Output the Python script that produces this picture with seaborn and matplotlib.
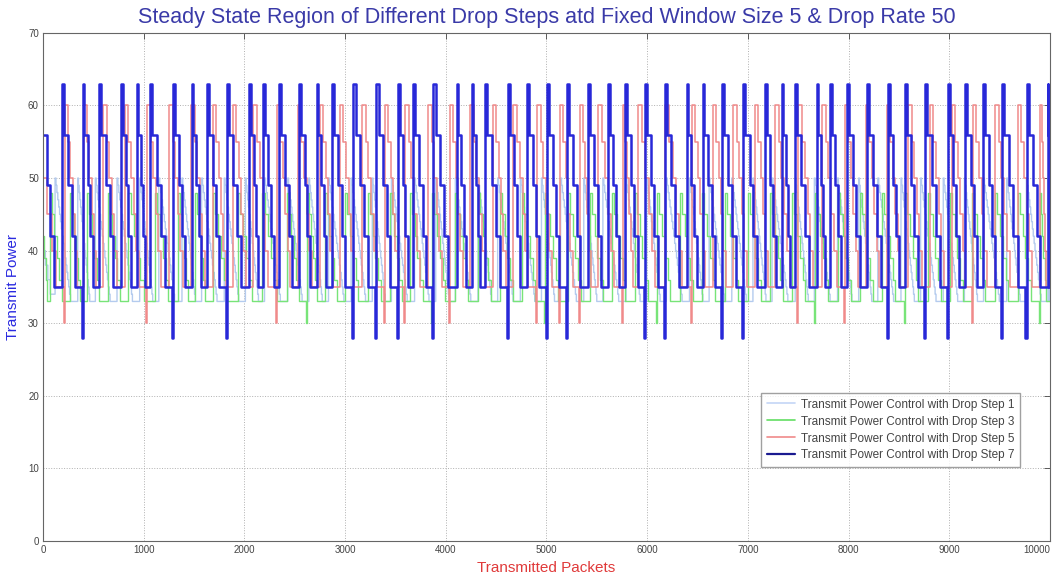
import matplotlib
matplotlib.use("Agg")
import matplotlib.pyplot as plt
import seaborn as sns
import pandas as pd
from matplotlib.lines import Line2D

# ---------------- data ----------------
x_max = 10000

# Drop step 7 (dark blue): cycle onsets (jump to 63) and cycles preceded by a dip to 28
blue_onsets = [186, 394, 559, 775, 930, 1063, 1294, 1477, 1626, 1824, 2049, 2188, 2346,
               2545, 2718, 2867, 3081, 3310, 3528, 3677, 3876, 4108, 4257, 4389, 4620,
               4803, 5001, 5200, 5415, 5614, 5779, 5978, 6176, 6392, 6550, 6740, 6954,
               7170, 7335, 7467, 7683, 7815, 7981, 8180, 8394, 8560, 8759, 8990, 9156,
               9338, 9520, 9768, 9982]
blue_dips = [394, 1294, 1824, 3081, 3310, 3528, 3876, 4620, 5001, 5200, 5978, 6176,
             6740, 6954, 8394, 8759, 8990, 9520, 9768]
blue_levels = [63, 56, 49, 42, 35]
blue_start = [56, 49, 42, 35]
blue_dip_level = 28

# Drop step 5 (red)
red_onsets = [218, 407, 596, 814, 1033, 1251, 1470, 1688, 1887, 2085, 2324, 2532, 2751,
              2949, 3168, 3396, 3595, 3823, 4042, 4240, 4469, 4667, 4905, 5134, 5332,
              5511, 5759, 5908, 6176, 6445, 6653, 6852, 7070, 7269, 7497, 7735, 7964,
              8172, 8381, 8590, 8808, 9026, 9235, 9453, 9682, 9900]
red_dips = [218, 1033, 2324, 3396, 3595, 4042, 4905, 5134, 5332, 5759, 6445, 7497,
            7964, 9235]
red_levels = [60, 55, 50, 45, 40, 35]
red_start = [50, 45, 40, 35]
red_dip_level = 30

# Drop step 3 (green)
green_onsets = [70, 268, 437, 645, 844, 1112, 1341, 1509, 1688, 1936, 2175, 2423, 2622,
                2800, 2999, 3227, 3446, 3644, 3863, 4091, 4320, 4538, 4756, 4985, 5213,
                5432, 5650, 5879, 6097, 6326, 6544, 6773, 7001, 7220, 7438, 7666, 7895,
                8113, 8332, 8560, 8788, 9007, 9225, 9453, 9682, 9900]
green_dips = [2622, 3863, 4985, 6097, 7666, 8560, 9900]
green_levels = [48, 45, 42, 39, 36, 33]
green_start = [42, 39, 36, 33]
green_dip_level = 30

# Drop step 1 (light blue)
lb_onsets = [120, 345, 520, 735, 960, 1150, 1380, 1575, 1800, 2010, 2200, 2430, 2640,
             2835, 3060, 3270, 3460, 3690, 3900, 4095, 4320, 4515, 4740, 4950, 5140,
             5370, 5560, 5790, 5995, 6190, 6420, 6615, 6840, 7050, 7240, 7470, 7660,
             7890, 8100, 8290, 8520, 8715, 8940, 9150, 9340, 9570, 9765, 9980]
lb_levels = [50, 49, 48, 47, 46, 45, 44, 43, 42, 41, 40, 39, 38, 37, 36, 35, 34, 33]
lb_start = [40, 38, 36, 34]

labels = ["Transmit Power Control with Drop Step 1",
          "Transmit Power Control with Drop Step 3",
          "Transmit Power Control with Drop Step 5",
          "Transmit Power Control with Drop Step 7"]
x_ticks = list(range(0, 10001, 1000))
y_ticks = list(range(0, 71, 10))


def build(onsets, levels, fracs, dips, dip_level, start_levels):
    xs, ys = [], []
    first = onsets[0]
    n = len(start_levels)
    for k, lv in enumerate(start_levels):
        xs.append(first * k / n * 0.8)
        ys.append(lv)
    if dip_level is not None and first in dips:
        xs.append(first * 0.95)
        ys.append(dip_level)
    bounds = list(onsets) + [x_max]
    for i in range(len(onsets)):
        t0, t1 = bounds[i], bounds[i + 1]
        L = t1 - t0
        c = 0.0
        for lv, f in zip(levels, fracs):
            xs.append(t0 + c * L)
            ys.append(lv)
            c += f
        if dip_level is not None and t1 in dips:
            xs.append(t1 - 0.05 * L)
            ys.append(dip_level)
    xs.append(x_max)
    ys.append(ys[-1])
    return pd.DataFrame({"packets": xs, "power": ys})


blue_df = build(blue_onsets, blue_levels, [0.10, 0.20, 0.17, 0.17, 0.0],
                blue_dips, blue_dip_level, blue_start)
red_df = build(red_onsets, red_levels, [0.16, 0.12, 0.12, 0.12, 0.12, 0.0],
               red_dips, red_dip_level, red_start)
green_df = build(green_onsets, green_levels, [0.10, 0.12, 0.12, 0.12, 0.12, 0.0],
                 green_dips, green_dip_level, green_start)
lb_df = build(lb_onsets, lb_levels, [0.04] * (len(lb_levels) - 1) + [0.0],
              [], None, lb_start)

# ---------------- plot ----------------
sns.set_style("white")
plt.rcParams["font.family"] = ["Liberation Sans", "DejaVu Sans"]

fig = plt.figure(figsize=(10.59, 5.76), dpi=100)
ax = fig.add_axes([0.0406, 0.0608, 0.9509, 0.8821])

styles = [
    (lb_df, "#b4cbee", 1.0),
    (green_df, "#78e478", 1.0),
    (red_df, "#f08a8a", 1.1),
    (blue_df, "#2828d8", 1.8),
]
for df, col, lw in styles:
    sns.lineplot(data=df, x="packets", y="power", ax=ax, color=col, linewidth=lw,
                 estimator=None, sort=False, drawstyle="steps-post", legend=False)

ax.set_xlim(0, x_max)
ax.set_ylim(0, 70)
ax.set_xticks(x_ticks)
ax.set_yticks(y_ticks)
ax.set_xticklabels([str(v) for v in x_ticks], fontsize=7, color="#333333")
ax.set_yticklabels([str(v) for v in y_ticks], fontsize=7, color="#333333")
ax.get_xticklabels()[-1].set_horizontalalignment("right")
ax.tick_params(direction="in", length=4, width=0.6, top=True, right=True, pad=3,
               colors="#444444")
ax.grid(True, linestyle=":", color="#b0b0b0", linewidth=0.7)
for s in ax.spines.values():
    s.set_color("#666666")
    s.set_linewidth(0.8)

ax.set_title("Steady State Region of Different Drop Steps atd Fixed Window Size 5 & Drop Rate 50",
             fontsize=15.5, color="#3a3aa8", pad=7)
ax.set_xlabel("Transmitted Packets", fontsize=11, color="#e03a3a", labelpad=4)
ax.set_ylabel("Transmit Power", fontsize=11, color="#2a2ae0", labelpad=6)

handles = [Line2D([], [], color="#c4d6f6", lw=1.2),
           Line2D([], [], color="#62de62", lw=1.2),
           Line2D([], [], color="#f08a8a", lw=1.2),
           Line2D([], [], color="#1a1a90", lw=1.6)]
leg = ax.legend(handles, labels, loc="lower right", bbox_to_anchor=(0.970, 0.146),
                borderaxespad=0, fontsize=8.5, frameon=True, fancybox=False,
                handlelength=2.4, handletextpad=0.5, labelspacing=0.42,
                borderpad=0.45)
leg.get_frame().set_edgecolor("#888888")
leg.get_frame().set_linewidth(1.0)
for t in leg.get_texts():
    t.set_color("#444444")

fig.savefig("out.png", dpi=100)
